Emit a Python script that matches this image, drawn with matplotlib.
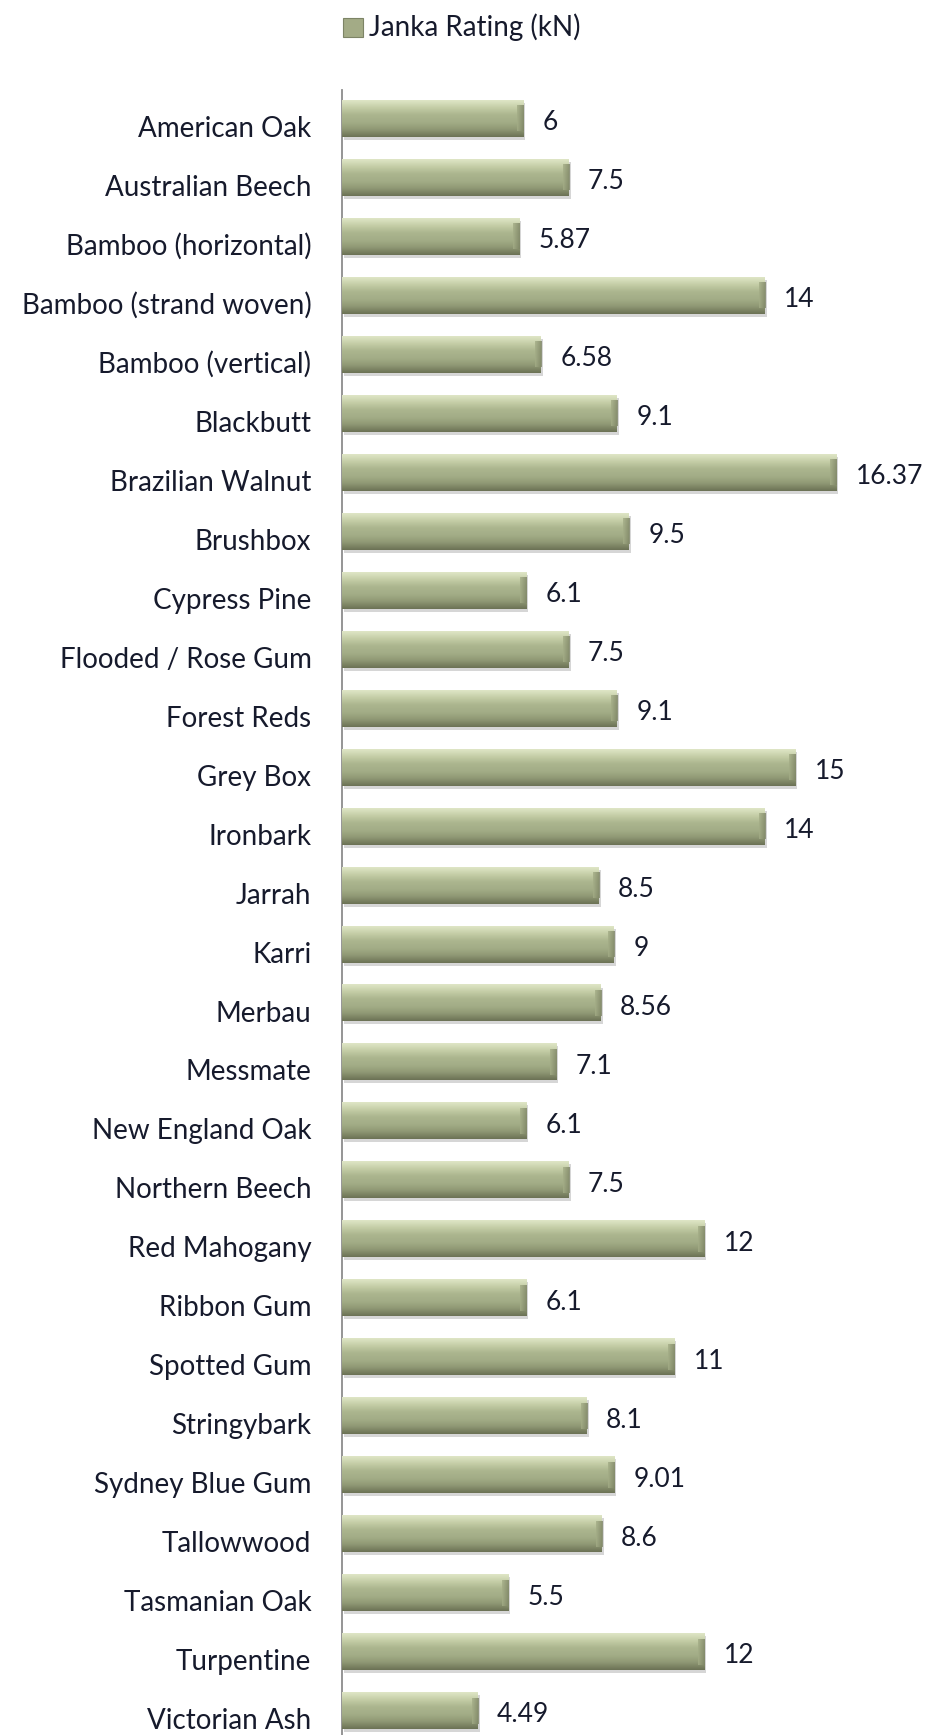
import numpy as np
import matplotlib.pyplot as plt
import matplotlib.transforms as mtransforms
from matplotlib.colors import LinearSegmentedColormap

# Janka hardness of timber species
species = ['American Oak', 'Australian Beech', 'Bamboo (horizontal)', 'Bamboo (strand woven)',
           'Bamboo (vertical)', 'Blackbutt', 'Brazilian Walnut', 'Brushbox', 'Cypress Pine',
           'Flooded / Rose Gum', 'Forest Reds', 'Grey Box', 'Ironbark', 'Jarrah', 'Karri',
           'Merbau', 'Messmate', 'New England Oak', 'Northern Beech', 'Red Mahogany',
           'Ribbon Gum', 'Spotted Gum', 'Stringybark', 'Sydney Blue Gum', 'Tallowwood',
           'Tasmanian Oak', 'Turpentine', 'Victorian Ash']
janka = [6, 7.5, 5.87, 14, 6.58, 9.1, 16.37, 9.5, 6.1, 7.5, 9.1, 15, 14, 8.5, 9,
         8.56, 7.1, 6.1, 7.5, 12, 6.1, 11, 8.1, 9.01, 8.6, 5.5, 12, 4.49]
value_labels = ['6', '7.5', '5.87', '14', '6.58', '9.1', '16.37', '9.5', '6.1', '7.5', '9.1',
                '15', '14', '8.5', '9', '8.56', '7.1', '6.1', '7.5', '12', '6.1', '11', '8.1',
                '9.01', '8.6', '5.5', '12', '4.49']

FONT = 'Lato'
TXT = '#161a2c'
plt.rcParams['font.family'] = [FONT, 'DejaVu Sans']

fig = plt.figure(figsize=(9.31, 17.35), dpi=100)
ax = fig.add_axes([0.3674, 0.0, 1 - 0.3674, 0.948])

ypos = np.arange(len(species))
bar_h = 0.627

# soft drop shadow
shadow_tr = mtransforms.offset_copy(ax.transData, fig=fig, x=2, y=-3, units='dots')
ax.barh(ypos, janka, height=bar_h, color='#000000', alpha=0.16, transform=shadow_tr,
        zorder=1, linewidth=0)

# gradient bars (light top, darker bottom)
grad = LinearSegmentedColormap.from_list(
    'olive', ['#dfe6c6', '#c4cda6', '#abb58e', '#a3ad87', '#8f9874', '#6c7255'])
g = np.linspace(0, 1, 64).reshape(-1, 1)
bars = ax.barh(ypos, janka, height=bar_h, color='#a5ae88', zorder=2, linewidth=0)
end_cmap = LinearSegmentedColormap.from_list('end', ['#a5ae88', '#7c8364'])
for b in bars:
    x0, y0 = b.get_x(), b.get_y()
    w, h = b.get_width(), b.get_height()
    ax.imshow(g, cmap=grad, aspect='auto', extent=(x0, x0 + w, y0 + h, y0),
              zorder=3, interpolation='bicubic')
    # slightly darker bevel at the bar end
    ax.imshow(np.linspace(0, 1, 32).reshape(1, -1), cmap=end_cmap, aspect='auto',
              extent=(x0 + w - 0.2, x0 + w, y0 + h * 0.85, y0 + h * 0.15),
              zorder=4, alpha=0.8)

for y, v, lab in zip(ypos, janka, value_labels):
    ax.annotate(lab, (v, y), xytext=(14, -3), textcoords='offset points',
                ha='left', va='center', fontsize=19, color=TXT)

ax.set_xlim(0, 19.5)
ax.set_ylim(27.41, -0.475)
ax.set_yticks(ypos)
ax.set_yticklabels(species, fontsize=20, color=TXT)
ax.tick_params(axis='y', length=0, pad=22)
for lbl in ax.get_yticklabels():
    lbl.set_transform(lbl.get_transform() + mtransforms.ScaledTranslation(0, -8 / 100, fig.dpi_scale_trans))
ax.set_xticks([])
for s in ['top', 'right', 'bottom']:
    ax.spines[s].set_visible(False)
ax.spines['left'].set_color('#8c8c8c')
ax.spines['left'].set_linewidth(1.3)

# legend
fig.patches.append(plt.Rectangle((343 / 931, 1 - 37 / 1735), 20 / 931, 19 / 1735,
                                 transform=fig.transFigure, facecolor='#a3ab86',
                                 edgecolor='#7d8466', linewidth=0.8))
fig.text(369 / 931, 1 - 27 / 1735, 'Janka Rating (kN)', ha='left', va='center',
         fontsize=20, color=TXT)

fig.savefig('out.png', dpi=100)
